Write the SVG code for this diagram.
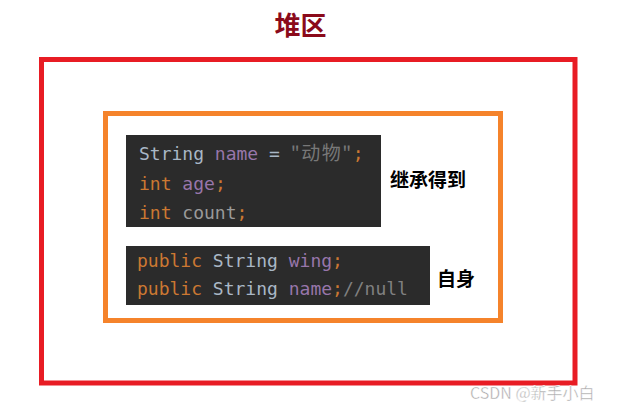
<svg xmlns="http://www.w3.org/2000/svg" width="620" height="414" viewBox="0 0 620 414">
<style>
.code{font-family:"DejaVu Sans Mono","Liberation Mono",monospace;font-size:18px}
.kw{fill:#CC7832}.ty{fill:#A9B7C6}.fd{fill:#9876AA}.cm{fill:#808080}.pl{fill:#A9B7C6}
.lbl{font-family:"Noto Sans CJK SC","Noto Sans",sans-serif;font-weight:bold;font-size:19px;fill:#000}
.box{fill:#2B2B2B}
</style>
<rect width="620" height="414" fill="#fff"/>
<g id="title"><text x="300.5" y="35" text-anchor="middle" font-family="Noto Sans CJK SC,sans-serif" font-weight="bold" font-size="26" fill="#8B0A1A">堆区</text></g>
<g id="heap"><rect x="41.5" y="59.5" width="533.5" height="323.5" fill="none" stroke="#E81C24" stroke-width="5"/></g>
<g id="object"><rect x="105.5" y="113.5" width="395" height="207" fill="none" stroke="#F5832B" stroke-width="5"/></g>
<g id="inherited">
<rect class="box" x="126" y="135" width="255" height="92"/>
<text class="code" x="139" y="160"><tspan class="ty">String </tspan><tspan class="fd">name</tspan><tspan class="pl"> = </tspan><tspan fill="#787878" font-family="Noto Sans CJK SC,sans-serif" font-size="19" letter-spacing="1.5">"动物"</tspan><tspan class="kw">;</tspan></text>
<text class="code" x="139" y="190"><tspan class="kw">int </tspan><tspan class="fd">age</tspan><tspan class="kw">;</tspan></text>
<text class="code" x="139" y="219"><tspan class="kw">int </tspan><tspan fill="#9A9A9A">count</tspan><tspan class="kw">;</tspan></text>
<text class="lbl" x="390" y="187">继承得到</text>
</g>
<g id="own">
<rect class="box" x="126" y="246" width="304" height="59"/>
<text class="code" x="137" y="267"><tspan class="kw">public </tspan><tspan class="ty">String </tspan><tspan class="fd">wing</tspan><tspan class="kw">;</tspan></text>
<text class="code" x="137" y="295"><tspan class="kw">public </tspan><tspan class="ty">String </tspan><tspan class="fd">name</tspan><tspan class="kw">;</tspan><tspan class="cm">//null</tspan></text>
<text class="lbl" x="437" y="286">自身</text>
</g>
<g id="connectors"></g>
<text x="470" y="399" font-family="Noto Sans CJK SC,sans-serif" font-size="16" fill="#a8a8a8" stroke="#ffffff" stroke-width="0.4">CSDN @新手小白</text>
</svg>
